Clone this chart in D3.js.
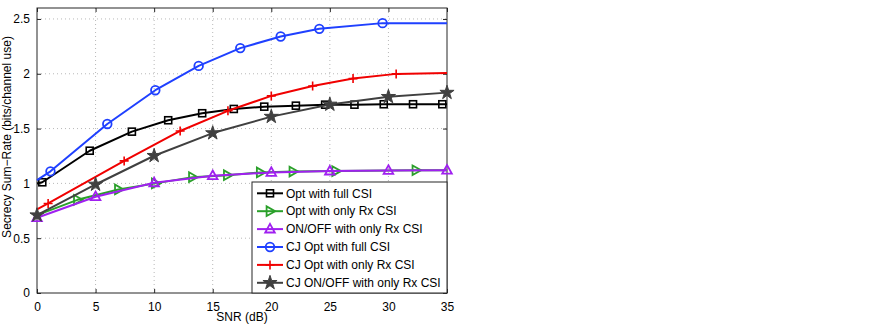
<!DOCTYPE html>
<html>
<head>
<meta charset="utf-8">
<script src="https://cdn.jsdelivr.net/npm/d3@7"></script>
<style>
  body { margin: 0; background: #fff; }
  svg { display: block; font-family: "Liberation Sans", Arial, sans-serif; }
</style>
</head>
<body>
<svg id="chart" width="872" height="327"></svg>
<script>
// axis ticks
const snrTicks = [0, 5, 10, 15, 20, 25, 30, 35];
const rateTicks = [0, 0.5, 1, 1.5, 2, 2.5];

// series lines [SNR, rate]
const optFullCsi = [[0, 1.0], [0.45, 1.01], [4.5, 1.298], [8.1, 1.472], [11.2, 1.576], [14.1, 1.64], [16.8, 1.679],
  [19.4, 1.70], [22.1, 1.709], [24.6, 1.718], [27.1, 1.718], [29.6, 1.722], [32.1, 1.722], [34.6, 1.722], [35, 1.722]];
const optRxCsi = [[0, 0.71], [3.45, 0.85], [6.95, 0.945], [10.1, 1.0], [13.27, 1.057], [16.25, 1.075], [19.06, 1.10],
  [21.85, 1.108], [25.5, 1.112], [32.35, 1.12], [35, 1.12]];
const onoffRxCsi = [[0, 0.686], [5, 0.878], [10, 1.005], [15, 1.07], [20, 1.10], [25, 1.112], [30, 1.118], [35, 1.12]];
const cjOptFullCsi = [[0, 1.03], [1.15, 1.11], [6.0, 1.542], [10.1, 1.85], [13.8, 2.072], [17.35, 2.234], [20.8, 2.34],
  [24.1, 2.41], [29.5, 2.462], [35, 2.462]];
const cjOptRxCsi = [[0, 0.762], [0.95, 0.817], [7.44, 1.205], [12.22, 1.478], [16.3, 1.662], [20.0, 1.798], [23.53, 1.889],
  [26.98, 1.956], [30.66, 1.999], [35, 2.008]];
const cjOnoffRxCsi = [[0, 0.71], [5, 0.99], [10, 1.252], [15, 1.459], [20, 1.609], [25, 1.72], [30, 1.79], [35, 1.828]];

// which points carry a marker
const optFullMarks = optFullCsi.slice(1, -1);
const optRxMarks = optRxCsi.slice(1, -1);
const onoffRxMarks = onoffRxCsi;
const cjOptFullMarks = cjOptFullCsi.slice(1, -1);
const cjOptRxMarks = cjOptRxCsi.slice(1, -1);
const cjOnoffRxMarks = cjOnoffRxCsi;

const series = [
  { name: "Opt with full CSI", pts: optFullCsi, marks: optFullMarks, color: "#000000", marker: "square" },
  { name: "Opt with only Rx CSI", pts: optRxCsi, marks: optRxMarks, color: "#2aa02a", marker: "triRight" },
  { name: "ON/OFF with only Rx CSI", pts: onoffRxCsi, marks: onoffRxMarks, color: "#a020f0", marker: "triUp" },
  { name: "CJ Opt with full CSI", pts: cjOptFullCsi, marks: cjOptFullMarks, color: "#1f40ff", marker: "circle" },
  { name: "CJ Opt with only Rx CSI", pts: cjOptRxCsi, marks: cjOptRxMarks, color: "#f00000", marker: "plus" },
  { name: "CJ ON/OFF with only Rx CSI", pts: cjOnoffRxCsi, marks: cjOnoffRxMarks, color: "#404040", marker: "star" }
];

const margin = { left: 37, right: 425, top: 8, bottom: 34 };
const width = 872, height = 327;
const plotW = width - margin.left - margin.right;
const plotH = height - margin.top - margin.bottom;

const svg = d3.select("#chart");
const x = d3.scaleLinear().domain([0, 35]).range([0, plotW]);
const y = d3.scaleLinear().domain([0, 2.6]).range([plotH, 0]);

const g = svg.append("g").attr("transform", `translate(${margin.left},${margin.top})`);

// grid
g.append("g").selectAll("line").data(snrTicks.slice(1, -1)).join("line")
  .attr("x1", d => x(d)).attr("x2", d => x(d)).attr("y1", 0).attr("y2", plotH)
  .attr("stroke", "#b8b8b8").attr("stroke-width", 1).attr("stroke-dasharray", "1,3");
g.append("g").selectAll("line").data(rateTicks.slice(1)).join("line")
  .attr("y1", d => y(d)).attr("y2", d => y(d)).attr("x1", 0).attr("x2", plotW)
  .attr("stroke", "#b8b8b8").attr("stroke-width", 1).attr("stroke-dasharray", "1,3");

// axes, MATLAB style: inward ticks on all four sides
const xAxis = g.append("g").attr("transform", `translate(0,${plotH})`)
  .call(d3.axisBottom(x).tickValues(snrTicks).tickSize(-4).tickPadding(9).tickFormat(d3.format("d")));
const xTop = g.append("g").call(d3.axisTop(x).tickValues(snrTicks).tickSize(-4).tickFormat(""));
const yAxis = g.append("g")
  .call(d3.axisLeft(y).tickValues(rateTicks).tickSize(-4).tickPadding(7).tickFormat(d => d3.format("")(d)));
const yRight = g.append("g").attr("transform", `translate(${plotW},0)`)
  .call(d3.axisRight(y).tickValues(rateTicks).tickSize(-4).tickFormat(""));

[xAxis, xTop, yAxis, yRight].forEach(a => {
  a.select(".domain").remove();
  a.selectAll(".tick line").attr("stroke", "#262626");
  a.selectAll("text").attr("font-size", 12).attr("fill", "#000")
    .attr("font-family", "'Liberation Sans', Arial, sans-serif");
});

g.append("rect").attr("width", plotW).attr("height", plotH)
  .attr("fill", "none").attr("stroke", "#262626").attr("stroke-width", 1);

// marker shapes
function drawMarker(sel, type, color) {
  if (type === "square") {
    sel.append("rect").attr("x", -3.5).attr("y", -3.5).attr("width", 7).attr("height", 7)
      .attr("fill", "none").attr("stroke", color).attr("stroke-width", 1.6);
  } else if (type === "circle") {
    sel.append("circle").attr("r", 4.3).attr("fill", "none").attr("stroke", color).attr("stroke-width", 1.8);
  } else if (type === "triUp") {
    sel.append("path").attr("d", "M0,-5.2L4.8,3.4L-4.8,3.4Z")
      .attr("fill", "none").attr("stroke", color).attr("stroke-width", 1.8);
  } else if (type === "triRight") {
    sel.append("path").attr("d", "M5.2,0L-3.4,4.8L-3.4,-4.8Z")
      .attr("fill", "none").attr("stroke", color).attr("stroke-width", 1.8);
  } else if (type === "plus") {
    sel.append("path").attr("d", "M-4.5,0H4.5M0,-4.5V4.5")
      .attr("fill", "none").attr("stroke", color).attr("stroke-width", 1.6);
  } else if (type === "star") {
    sel.append("path").attr("d", d3.symbol(d3.symbolStar, 62)())
      .attr("fill", color).attr("stroke", color).attr("stroke-width", 1);
  }
}

const line = d3.line().x(d => x(d[0])).y(d => y(d[1]));

series.forEach(s => {
  g.append("path").datum(s.pts).attr("d", line)
    .attr("fill", "none").attr("stroke", s.color).attr("stroke-width", 2).attr("stroke-linejoin", "round");
  g.append("g").selectAll("g").data(s.marks).join("g")
    .attr("transform", d => `translate(${x(d[0])},${y(d[1])})`)
    .each(function () { drawMarker(d3.select(this), s.marker, s.color); });
});

// legend
const legW = 195, legH = 111, rowH = 17.9;
const leg = g.append("g").attr("transform", `translate(${plotW - legW},${plotH - legH})`);
leg.append("rect").attr("width", legW).attr("height", legH)
  .attr("fill", "#fff").attr("stroke", "#262626").attr("stroke-width", 1);
series.forEach((s, i) => {
  const row = leg.append("g").attr("transform", `translate(0,${11.3 + i * rowH})`);
  row.append("line").attr("x1", 5).attr("x2", 31).attr("stroke", s.color).attr("stroke-width", 2);
  drawMarker(row.append("g").attr("transform", "translate(18,0)"), s.marker, s.color);
  row.append("text").attr("x", 34).attr("dy", "0.35em").attr("font-size", 12).text(s.name);
});

// axis labels
svg.append("text").attr("x", margin.left + plotW / 2).attr("y", 321)
  .attr("text-anchor", "middle").attr("font-size", 12).text("SNR (dB)");
svg.append("text").attr("transform", "translate(11,137) rotate(-90)")
  .attr("text-anchor", "middle").attr("font-size", 12).text("Secrecy Sum\u2212Rate (bits/channel use)");
</script>
</body>
</html>
